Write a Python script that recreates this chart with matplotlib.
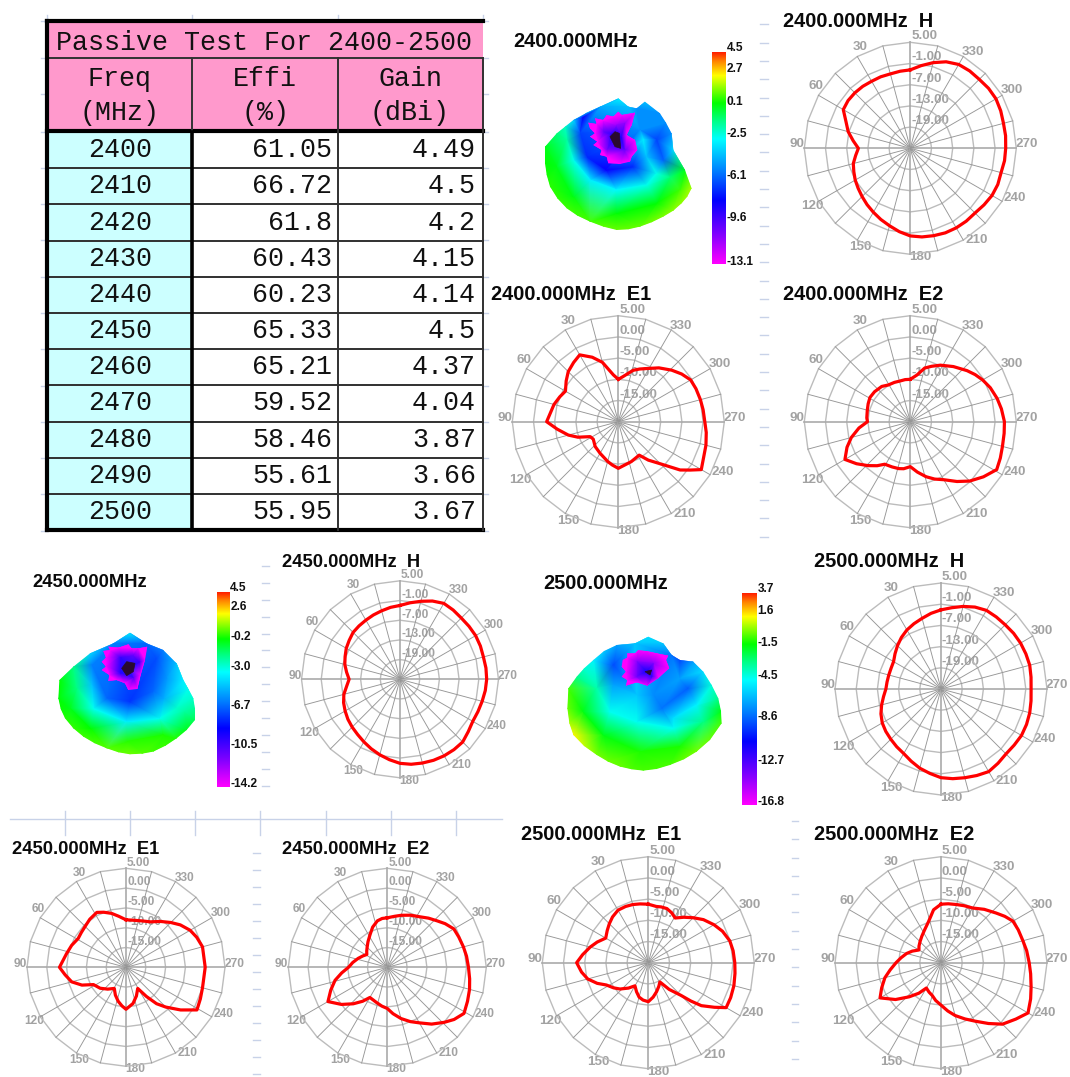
"""Passive antenna test sheet: efficiency table, 3D gain blobs and polar cuts."""

import matplotlib

matplotlib.use("Agg")

import matplotlib.pyplot as plt
import matplotlib.tri as mtri
import numpy as np
from matplotlib.colors import LinearSegmentedColormap
from matplotlib.patches import Polygon, Rectangle

W, H = 1070, 1077

# ---- table ----
FREQ = [2400, 2410, 2420, 2430, 2440, 2450, 2460, 2470, 2480, 2490, 2500]
EFFI = ["61.05", "66.72", "61.8", "60.43", "60.23", "65.33", "65.21", "59.52", "58.46", "55.61", "55.95"]
GAIN = ["4.49", "4.5", "4.2", "4.15", "4.14", "4.5", "4.37", "4.04", "3.87", "3.66", "3.67"]

# ---- polar cuts as (degrees, dB) ----
H_2400 = [(0, -2.8), (7.5, -3.0), (15, -3.2), (22.5, -3.1), (30, -3.1), (37.5, -2.9), (45, -2.8), (52.5, -2.8), (60, -3.1),
          (67.5, -5.3), (75, -6.8), (82.5, -8.7), (90, -10.3), (97.5, -9.4), (105, -8.3), (112.5, -7.7), (120, -7.0),
          (127.5, -6.4), (135, -5.7), (142.5, -4.9), (150, -4.1), (157.5, -3.2), (165, -2.3), (172.5, -1.2), (180, -0.2),
          (187.5, 0.3), (195, 0.6), (202.5, 0.9), (210, 1.0), (217.5, 1.0), (225, 0.9), (232.5, 1.3), (240, 1.7),
          (247.5, 1.8), (255, 1.6), (262.5, 1.9), (270, 2.0), (277.5, 2.2), (285, 2.3), (292.5, 2.7), (300, 3.0),
          (307.5, 2.9), (315, 2.6), (322.5, 2.6), (330, 2.4), (337.5, 1.5), (345, 0.1), (352.5, -1.4)]
H_2450 = [(0, -2.5), (7.5, -2.9), (15, -3.4), (22.5, -3.8), (30, -4.2), (37.5, -4.5), (45, -4.8), (52.5, -5.5), (60, -6.1),
          (67.5, -6.9), (75, -7.6), (82.5, -8.6), (90, -9.5), (97.5, -8.6), (105, -7.3), (112.5, -6.4), (120, -5.7),
          (127.5, -5.0), (135, -4.4), (142.5, -3.8), (150, -3.0), (157.5, -2.1), (165, -1.2), (172.5, -0.3), (180, 0.6),
          (187.5, 1.1), (195, 1.4), (202.5, 1.7), (210, 1.9), (217.5, 2.0), (225, 2.0), (232.5, 1.2), (240, 0.6),
          (247.5, 0.7), (255, 0.9), (262.5, 1.2), (270, 1.4), (277.5, 1.4), (285, 1.3), (292.5, 1.5), (300, 1.6),
          (307.5, 1.5), (315, 1.4), (322.5, 1.6), (330, 1.7), (337.5, 0.8), (345, -0.4), (352.5, -1.5)]
H_2500 = [(0, -2.6), (7.5, -3.4), (15, -4.3), (22.5, -5.0), (30, -5.7), (37.5, -6.6), (45, -7.6), (52.5, -8.6), (60, -9.5),
          (67.5, -9.7), (75, -9.7), (82.5, -9.6), (90, -9.4), (97.5, -8.6), (105, -7.6), (112.5, -6.6), (120, -5.8),
          (127.5, -5.3), (135, -4.9), (142.5, -4.4), (150, -3.9), (157.5, -2.9), (165, -1.8), (172.5, -0.9), (180, 0.1),
          (187.5, 0.6), (195, 1.0), (202.5, 1.5), (210, 2.0), (217.5, 1.5), (225, 1.0), (232.5, 1.1), (240, 1.3),
          (247.5, 1.2), (255, 1.0), (262.5, 0.7), (270, 0.5), (277.5, 0.7), (285, 1.0), (292.5, 1.0), (300, 1.0),
          (307.5, 0.9), (315, 0.7), (322.5, 0.7), (330, 0.7), (337.5, 0.1), (345, -0.8), (352.5, -1.8)]

E1_2400 = [(0, -10.0), (6, -8.9), (15, -5.5), (22, -3.6), (30, -1.8), (37, -2.5), (45, -3.3), (52, -4.4), (60, -5.6), (67, -5.0),
           (75, -4.3), (90, -3.1), (97, -5.5), (105, -7.8), (111, -9.8), (118, -12.5), (125, -12.8), (137, -12.0), (150, -11.4),
           (165, -10.3), (172, -9.7), (180, -9.0), (198, -10.1), (212, -10.7), (218, -8.5), (224, -6.4), (232, -1.5), (236, 0.4),
           (240, 2.6), (255, 1.4), (263, 0.9), (270, 0.4), (278, 0.2), (285, 0.05), (293, -0.1), (300, -0.3), (307, -1.3),
           (314, -2.5), (323, -4.1), (332, -5.8), (338, -6.6), (344, -7.4), (354, -9.3)]
E2_2400 = [(0, -10.0), (7, -10.0), (14, -10.1), (22, -10.0), (31, -9.9), (39, -9.3), (50, -9.0), (59, -8.9), (67, -9.2), (75, -9.5),
           (85, -9.7), (90, -9.9), (97, -7.8), (105, -5.6), (112, -3.9), (120, -2.2), (128, -3.9), (136, -5.6), (143, -7.0),
           (149, -8.3), (158, -8.5), (166, -8.6), (172, -8.8), (180, -9.4), (188, -8.0), (196, -6.5), (203, -5.3), (210, -4.2),
           (218, -2.1), (225, -0.2), (233, 1.6), (241, 3.3), (248, 2.9), (255, 2.5), (263, 2.3), (270, 2.2), (278, 1.7), (285, 1.2),
           (293, 0.5), (300, -0.3), (306, -1.1), (312, -2.0), (322, -3.5), (332, -4.9), (339, -6.0), (345, -6.9), (352, -8.9)]
E1_2450 = [(0, -8.0), (8, -7.0), (15, -5.9), (22, -5.0), (28, -4.3), (37, -4.8), (45, -5.4), (52, -5.7), (59, -5.9), (68, -5.2),
           (77, -4.6), (90, -3.2), (97, -4.5), (105, -5.8), (112, -8.0), (118, -10.7), (129, -11.6), (140, -12.8), (151, -13.9),
           (159, -12.5), (167, -11.2), (174, -10.2), (180, -9.4), (191, -10.7), (200, -12.3), (209, -13.9), (215, -11.0), (220, -8.0),
           (225, -5.8), (232, -2.5), (239, 0.9), (247, 0.4), (255, 0.0), (270, 0.0), (285, 0.0), (293, -0.6), (300, -1.3),
           (308, -2.6), (315, -4.0), (323, -5.5), (332, -7.0), (339, -7.5), (345, -7.8), (353, -8.0)]
E2_2450 = [(0, -7.5), (6, -7.6), (12, -8.0), (20, -9.2), (28, -10.7), (37, -11.9), (45, -12.8), (52, -13.4), (58, -13.9), (65, -13.2),
           (73, -12.3), (82, -11.2), (90, -10.2), (97, -8.4), (104, -6.4), (112, -4.6), (120, -2.7), (129, -5.1), (137, -7.4),
           (144, -9.4), (150, -11.2), (157, -11.0), (163, -10.7), (172, -10.1), (180, -9.6), (187, -8.2), (195, -6.6), (203, -5.1),
           (210, -3.8), (218, -1.8), (226, 0.0), (232, 1.4), (239, 2.6), (247, 2.0), (255, 1.5), (262, 1.0), (270, 0.5), (278, 0.2),
           (285, -0.1), (293, -0.4), (300, -0.6), (307, -1.7), (313, -2.8), (320, -3.8), (327, -4.8), (336, -5.6), (345, -6.4), (352, -7.0)]
E1_2500 = [(0, -6.2), (8, -6.0), (15, -5.8), (22, -5.7), (30, -5.7), (38, -6.3), (45, -7.0), (52, -7.7), (60, -8.4), (68, -7.0),
           (75, -5.8), (83, -4.4), (90, -3.1), (98, -4.1), (105, -5.2), (112, -7.0), (118, -8.8), (126, -9.9), (133, -10.9), (142, -12.4),
           (150, -13.7), (158, -12.6), (165, -11.6), (172, -11.1), (180, -10.8), (188, -11.8), (196, -12.9), (204, -13.9), (211, -14.7),
           (218, -12.0), (225, -9.1), (228, -6.5), (231, -3.9), (236, -1.2), (240, 1.2), (247, 1.1), (255, 0.9), (263, 0.6), (270, 0.4),
           (278, 0.2), (285, -0.1), (293, -1.0), (300, -2.1), (308, -3.5), (315, -5.0), (322, -6.4), (329, -7.7), (335, -7.0),
           (341, -6.5), (347, -6.5), (352, -6.6)]
E2_2500 = [(0, -6.2), (8, -7.4), (17, -9.9), (27, -11.4), (36, -12.3), (45, -13.0), (53, -13.5), (60, -14.0), (68, -12.7), (75, -11.6),
           (83, -10.5), (90, -9.4), (98, -7.9), (105, -6.3), (113, -4.8), (120, -3.4), (129, -6.2), (137, -9.0), (144, -11.1), (150, -13.1),
           (158, -12.5), (165, -12.0), (172, -11.0), (180, -10.0), (188, -8.5), (195, -7.1), (203, -5.6), (210, -4.1), (218, -1.8),
           (225, 0.5), (233, 2.1), (240, 3.7), (248, 2.8), (255, 2.0), (263, 1.3), (270, 0.8), (278, 0.4), (285, 0.0), (293, -0.2),
           (300, -0.4), (306, -1.4), (312, -2.5), (321, -3.8), (330, -5.1), (338, -5.5), (345, -5.8), (353, -6.0)]

H_RINGS = [5, -1, -7, -13, -19]
E_RINGS = [5, 0, -5, -10, -15]
H_LABELS = ["5.00", "-1.00", "-7.00", "-13.00", "-19.00"]
E_LABELS = ["5.00", "0.00", "-5.00", "-10.00", "-15.00"]
ANGLE_LABELS = ["30", "60", "90", "120", "150", "180", "210", "240", "270", "300", "330"]
ANGLE_OFFSETS = [(-50, -101), (-94, -62), (-113, -4), (-98, 58), (-50, 99), (10, 109),
                 (66, 92), (104, 50), (116, -4), (101, -58), (63, -96)]

# ---- colour bars ----
BAR_2400 = ["4.5", "2.7", "0.1", "-2.5", "-6.1", "-9.6", "-13.1"]
BAR_2450 = ["4.5", "2.6", "-0.2", "-3.0", "-6.7", "-10.5", "-14.2"]
BAR_2500 = ["3.7", "1.6", "-1.5", "-4.5", "-8.6", "-12.7", "-16.8"]
BAR_2400_Y = [48, 69, 102, 134, 176, 218, 262]
BAR_2450_Y = [588, 607, 637, 667, 706, 745, 784]
BAR_2500_Y = [589, 611, 643, 676, 717, 761, 802]

# ---- gain blobs, (x, y, dB) in 3x crop pixels ----
EDGE_2400 = [(135, 440, 0), (135, 490, 0.3), (140, 525, 0.4), (150, 560, 0.6), (172, 595, 0.7), (200, 625, 0.8), (232, 647, 0.85),
             (270, 665, 0.9), (310, 680, 1.1), (350, 690, 1.2), (385, 688, 1.2), (420, 680, 1.2), (455, 667, 1.3), (490, 650, 1.4),
             (520, 632, 1.5), (545, 610, 1.6), (562, 590, 1.7), (575, 565, 1.8), (555, 510, 0), (520, 450, -3.5),
             (515, 400, -5), (498, 368, -5), (480, 340, -5), (435, 305, -4), (410, 325, -5), (385, 320, -4), (355, 295, -3),
             (300, 320, -4.5), (260, 338, -4.5), (220, 360, -3.5), (195, 380, -2), (170, 400, -1)]
INNER_2400 = [(250, 350, -8), (240, 400, -6.5), (260, 470, -7), (320, 510, -8), (400, 500, -7), (440, 470, -4),
              (430, 420, -3), (420, 390, -5), (470, 420, -6.5), (490, 480, -6), (470, 520, -2.5), (200, 420, -1.5),
              (220, 480, -2.5), (270, 540, -3), (350, 570, -2.8), (440, 555, -2.5), (510, 530, -1), (170, 500, 0),
              (220, 590, 0.1), (350, 640, 0.2), (470, 610, 0.2), (540, 570, 0.8)]
JAG_2400 = [(265, 368), (290, 372), (285, 355), (310, 360), (320, 345), (340, 350), (355, 335), (365, 345), (405, 338),
            (395, 375), (380, 405), (405, 420), (412, 450), (395, 470), (390, 485), (360, 492), (325, 490), (320, 470),
            (300, 465), (305, 450), (280, 435), (292, 425), (270, 410), (285, 400), (270, 385)]
CORE_IN_2400 = [(310, 395, -10), (350, 375, -11), (375, 370, -11), (320, 450, -10.5), (375, 450, -10),
                (365, 410, -8.5), (345, 410, -8), (330, 400, -9)]
DARK_2400 = [(330, 410), (345, 395), (358, 400), (362, 445), (345, 440)]

EDGE_2450 = [(118, 345, 0), (115, 400, 0), (122, 432, 0.1), (135, 460, 0.3), (160, 490, 0.45), (190, 515, 0.6), (224, 535, 0.7),
             (260, 550, 0.8), (295, 562, 0.9), (330, 568, 1), (367, 566, 0.8), (400, 560, 0.6), (437, 542, 0.5), (470, 520, 0.3),
             (500, 495, -0.3), (525, 465, -1), (525, 430, -1.8), (520, 400, -2.5), (505, 372, -3), (490, 345, -3.5), (470, 295, -4.5),
             (430, 255, -6), (380, 235, -6.5), (330, 203, -3.5), (280, 235, -6), (210, 265, -4), (160, 305, -1.5)]
INNER_2450 = [(215, 300, -6), (215, 360, -4.5), (260, 400, -6.5), (330, 410, -7.5), (400, 380, -6.5), (440, 340, -5.5),
              (410, 280, -7), (430, 400, -5), (470, 430, -2.5), (170, 370, -1.5), (220, 430, -3), (320, 470, -3.5),
              (420, 460, -3), (490, 440, -2), (150, 430, -0.3), (210, 490, 0), (320, 530, 0.4), (430, 510, 0.2)]
JAG_2450 = [(250, 258), (270, 255), (265, 245), (295, 248), (325, 238), (335, 250), (355, 250), (382, 245), (375, 285),
            (362, 330), (352, 372), (325, 375), (315, 355), (290, 345), (265, 348), (268, 330), (245, 315), (258, 305),
            (245, 290), (258, 278)]
CORE_IN_2450 = [(300, 275, -10), (340, 270, -11), (360, 290, -10), (340, 340, -10.5), (300, 325, -9.5), (325, 310, -8)]
DARK_2450 = [(305, 310), (320, 290), (345, 295), (340, 320), (320, 332)]

EDGE_2500 = [(85, 370, -0.5), (82, 430, -0.2), (88, 475, 0.5), (100, 510, 1.5), (132, 543, 0.8), (170, 570, 0), (204, 590, -0.1),
             (240, 605, -0.2), (275, 613, -0.4), (310, 617, -0.5), (350, 612, -0.5), (390, 600, -0.5), (432, 583, -0.2), (470, 560, 0),
             (510, 525, -0.2), (545, 475, -0.5), (543, 438, -1.5), (535, 400, -3), (515, 360, -4.2), (490, 320, -5.5), (460, 290, -7),
             (420, 285, -9), (395, 270, -8), (370, 235, -6), (325, 215, -5.5), (285, 235, -6), (230, 240, -7),
             (192, 258, -6), (160, 285, -5), (132, 310, -4), (110, 335, -3)]
INNER_2500 = [(220, 300, -9), (220, 360, -7), (290, 390, -6), (340, 390, -7.5), (365, 430, -8), (420, 340, -7),
              (445, 370, -8.5), (470, 420, -5), (400, 460, -5.5), (170, 370, -3.5), (210, 440, -4.5), (290, 470, -4.5),
              (400, 490, -4.5), (490, 470, -3), (130, 440, -1.5), (190, 510, -1.5), (300, 560, -1), (420, 545, -1)]
JAG_2500 = [(248, 285), (262, 278), (262, 265), (285, 265), (295, 255), (320, 258), (350, 265), (385, 272), (378, 285),
            (388, 310), (355, 340), (322, 362), (290, 352), (258, 362), (262, 345), (245, 335), (258, 320), (245, 305)]
CORE_IN_2500 = [(290, 290, -14), (340, 295, -14), (290, 335, -13.5), (335, 335, -12), (320, 320, -11)]
DARK_2500 = [(315, 320), (335, 315), (330, 330)]

PINK = "#ff99cc"
CYAN = "#ccffff"
GREY = "#a2a2a2"
RULER = "#c8d2e8"

gain_cmap = LinearSegmentedColormap.from_list("gain", [
    (0.00, "#ff00ff"), (0.14, "#8000ff"), (0.30, "#0000ff"), (0.44, "#0080ff"), (0.59, "#00ffff"),
    (0.68, "#00ff80"), (0.76, "#00ff00"), (0.89, "#ffff00"), (0.96, "#ff8000"), (1.00, "#ff2000"),
])

fig = plt.figure(figsize=(W / 100, H / 100), dpi=100, facecolor="white")
plt.rcParams["font.family"] = ["Liberation Sans", "DejaVu Sans"]
main = fig.add_axes([0, 0, 1, 1])
main.set_xlim(0, W)
main.set_ylim(H, 0)
main.axis("off")


def draw_table():
    xs = [47, 192, 338, 483]
    top, title_bottom, head_bottom, body_top = 21, 58, 130, 132
    row_h = 36.2
    bottom = body_top + row_h * len(FREQ)

    main.add_patch(Rectangle((xs[0], top), xs[3] - xs[0], head_bottom - top, fc=PINK, ec="none"))
    main.add_patch(Rectangle((xs[0], body_top), xs[1] - xs[0], bottom - body_top, fc=CYAN, ec="none"))

    main.plot([xs[0], xs[3]], [title_bottom] * 2, color="#333333", lw=1.4)
    main.plot([xs[0], xs[3]], [top] * 2, color="black", lw=3)
    main.plot([xs[0], xs[3]], [131] * 2, color="black", lw=3)
    main.plot([xs[0], xs[3]], [bottom] * 2, color="black", lw=3)
    for i in range(1, len(FREQ)):
        y = body_top + row_h * i
        main.plot([xs[0], xs[3]], [y, y], color="#303030", lw=1.4)
    main.plot([xs[0], xs[0]], [top, bottom], color="black", lw=3)
    main.plot([xs[1], xs[1]], [title_bottom, head_bottom], color="#333333", lw=1.4)
    main.plot([xs[1], xs[1]], [body_top, bottom], color="black", lw=2.6)
    main.plot([xs[2], xs[2]], [title_bottom, bottom], color="#303030", lw=1.4)
    main.plot([xs[3], xs[3]], [title_bottom, bottom], color="#303030", lw=1.4)

    style = dict(family=["Liberation Mono", "DejaVu Sans Mono"], fontsize=19.2, color="#111111", va="center")
    main.text(56, 43, "Passive Test For 2400-2500", ha="left", **style)
    for cx, top_word, low_word in [(120, "Freq", "(MHz)"), (265, "Effi", "(%)"), (410, "Gain", "(dBi)")]:
        main.text(cx, 79, top_word, ha="center", **style)
        main.text(cx, 113, low_word, ha="center", **style)
    for i, (f, e, g) in enumerate(zip(FREQ, EFFI, GAIN)):
        y = body_top + row_h * (i + 0.5)
        main.text(120, y, str(f), ha="center", **style)
        main.text(332, y, e, ha="right", **style)
        main.text(476, y, g, ha="right", **style)


def draw_rulers():
    # faint spreadsheet ruler marks left behind in the screenshot
    for y in np.arange(24.3, 545, 18.3):
        main.plot([760, 768], [y, y], color=RULER, lw=1)
    for y in np.arange(566, 800, 16.9):
        main.plot([262, 269], [y, y], color=RULER, lw=1)
    for y in np.arange(852.7, 1077, 17):
        main.plot([253, 260], [y, y], color=RULER, lw=1)
    for y in np.arange(821, 1077, 18.3):
        main.plot([792, 798], [y, y], color=RULER, lw=1)
    main.plot([10, 502], [819, 819], color=RULER, lw=1)
    for x in [65, 130, 195, 260, 326, 391, 456]:
        main.plot([x, x], [811, 835], color=RULER, lw=1)
    for x in [47, 192, 338, 483]:
        main.plot([x, x], [15, 21], color=RULER, lw=1)
    for y in [21, 58, 94, 132, 168, 204, 240, 277, 313, 349, 386, 422, 458, 494, 531]:
        main.plot([41, 47], [y, y], color=RULER, lw=1)
        main.plot([483, 488], [y, y], color=RULER, lw=1)


def draw_bar(x0, x1, y0, y1, labels, label_y):
    ramp = np.linspace(1, 0, 256).reshape(-1, 1)
    main.imshow(ramp, extent=(x0, x1, y1, y0), cmap=gain_cmap, vmin=0, vmax=1, aspect="auto", zorder=2)
    main.set_xlim(0, W)
    main.set_ylim(H, 0)
    for text, y in zip(labels, label_y):
        main.text(x1 + 1, y, text, fontsize=8.6, fontweight="bold", color="#111111", va="center", ha="left", zorder=3)


def draw_blob(origin, edge, inner, jag, core, dark, vmin, vmax):
    ox, oy = origin
    to_px = lambda pts: [(ox + p[0] / 3, oy + p[1] / 3) for p in pts]

    body = np.array(edge + inner, dtype=float)
    body_px = np.array(to_px(body))
    mesh = main.tripcolor(mtri.Triangulation(body_px[:, 0], body_px[:, 1]), body[:, 2],
                          shading="gouraud", cmap=gain_cmap, vmin=vmin, vmax=vmax, zorder=2)
    mesh.set_clip_path(Polygon(to_px(edge), transform=main.transData))

    jag_px = np.array(to_px(jag))
    core_arr = np.array(core, dtype=float)
    core_px = np.array(to_px(core_arr))
    hole_x = np.r_[jag_px[:, 0], core_px[:, 0]]
    hole_y = np.r_[jag_px[:, 1], core_px[:, 1]]
    hole_v = np.r_[np.full(len(jag), vmin), core_arr[:, 2]]
    hole = main.tripcolor(mtri.Triangulation(hole_x, hole_y), hole_v, shading="gouraud",
                          cmap=gain_cmap, vmin=vmin, vmax=vmax, zorder=2.1)
    hole.set_clip_path(Polygon(to_px(jag), transform=main.transData))

    main.add_patch(Polygon(to_px(dark), fc="#2a0a2e", ec="#2a0a2e", lw=0.5, zorder=2.2))


def draw_polar(cx, cy, radius, rings, ring_labels, rmin, cut):
    ax = fig.add_axes([(cx - radius) / W, 1 - (cy + radius) / H, 2 * radius / W, 2 * radius / H],
                      projection="polar")
    ax.patch.set_alpha(0)
    ax.set_theta_zero_location("N")
    ax.set_theta_direction(1)
    ax.set_autoscale_on(False)
    ax.set_rlim(rmin, 5)
    ax.axis("off")

    spokes = np.deg2rad(np.arange(0, 360, 15))
    ring_theta = np.r_[spokes, spokes[0]]
    for r in rings:
        ax.plot(ring_theta, np.full(ring_theta.size, r), color="#bcbcbc", lw=1.0, clip_on=False)
    for a in spokes:
        major = np.isclose(np.rad2deg(a) % 90, 0)
        ax.plot([a, a], [rmin, 5], color="#aaaaaa" if major else "#969696", lw=1.2 if major else 0.65, clip_on=False)

    degrees, values = zip(*cut)
    theta = np.deg2rad(np.r_[degrees, degrees[0]])
    db = np.r_[values, values[0]]
    ax.plot(theta, db, color="#ff0000", lw=2.3, solid_joinstyle="round", clip_on=False)

    scale = radius / 106
    size = 9.6 if radius > 102 else 8.6
    for r, text in zip(rings, ring_labels):
        ring_r = radius * (r - rmin) / (5 - rmin)
        main.text(cx + 1, cy - ring_r - 6 * scale, text, color=GREY, fontsize=size, fontweight="bold",
                  ha="left", va="center")
    for text, (dx, dy) in zip(ANGLE_LABELS, ANGLE_OFFSETS):
        main.text(cx + dx * scale, cy + dy * scale, text, color=GREY, fontsize=size, fontweight="bold",
                  ha="center", va="center")


def title(x, y, text, size=14.4):
    main.text(x, y + 7, text, fontsize=size, fontweight="bold", color="#0a0a0a", ha="left", va="baseline")


draw_rulers()
draw_table()

draw_bar(712, 725.7, 52, 264, BAR_2400, BAR_2400_Y)
draw_bar(216.7, 229.3, 591.7, 786.7, BAR_2450, BAR_2450_Y)
draw_bar(742.3, 756.7, 593.3, 805, BAR_2500, BAR_2500_Y)

draw_blob((500, 0), EDGE_2400, INNER_2400, JAG_2400, CORE_IN_2400, DARK_2400, -13.1, 4.5)
draw_blob((20, 565), EDGE_2450, INNER_2450, JAG_2450, CORE_IN_2450, DARK_2450, -14.2, 4.5)
draw_blob((540, 565), EDGE_2500, INNER_2500, JAG_2500, CORE_IN_2500, DARK_2500, -16.8, 3.7)

draw_polar(910.3, 148.3, 106, H_RINGS, H_LABELS, -25, H_2400)
draw_polar(618.3, 421.7, 106, E_RINGS, E_LABELS, -20, E1_2400)
draw_polar(910.3, 421.7, 106, E_RINGS, E_LABELS, -20, E2_2400)
draw_polar(400, 679.3, 98.5, H_RINGS, H_LABELS, -25, H_2450)
draw_polar(126, 967.3, 99, E_RINGS, E_LABELS, -20, E1_2450)
draw_polar(387.3, 967.3, 99, E_RINGS, E_LABELS, -20, E2_2450)
draw_polar(941, 689, 106, H_RINGS, H_LABELS, -25, H_2500)
draw_polar(648.3, 962.7, 106, E_RINGS, E_LABELS, -20, E1_2500)
draw_polar(941, 962.7, 106, E_RINGS, E_LABELS, -20, E2_2500)

title(513, 40, "2400.000MHz")
title(783, 20, "2400.000MHz  H")
title(491, 293, "2400.000MHz  E1")
title(783, 293, "2400.000MHz  E2")
title(32, 580, "2450.000MHz", 13.2)
title(282, 560, "2450.000MHz  H", 13.2)
title(543, 582, "2500.000MHz")
title(814, 560, "2500.000MHz  H")
title(12, 847, "2450.000MHz  E1", 13.2)
title(282, 847, "2450.000MHz  E2", 13.2)
title(521, 833, "2500.000MHz  E1")
title(814, 833, "2500.000MHz  E2")

fig.savefig("out.png", dpi=100)
